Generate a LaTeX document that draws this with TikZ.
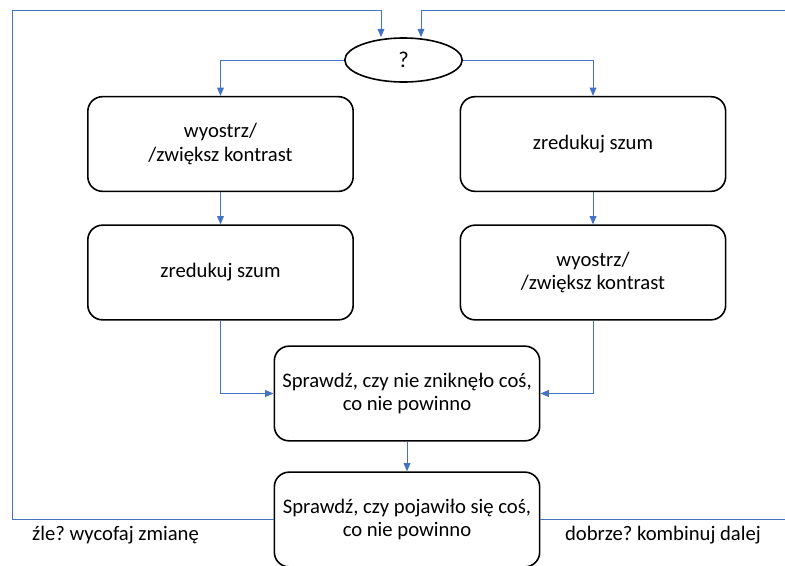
\documentclass[tikz,border=0pt]{standalone}
\usepackage{fontspec}
\setmainfont{Carlito}
\usepackage{tikz}
\usetikzlibrary{arrows.meta,calc,positioning,shapes.geometric}
\frenchspacing
\definecolor{officeblue}{RGB}{68,114,196}
\tikzset{
  blok/.style={
    rounded corners=11pt,
    draw=black,
    line width=1.2pt,
    fill=white,
    align=center,
    minimum width=199pt,
    minimum height=71pt,
    inner sep=4pt,
    font=\fontsize{15.5}{17.5}\selectfont
  },
  pytanie/.style={
    ellipse,
    draw=black,
    line width=1.2pt,
    fill=white,
    minimum width=88pt,
    minimum height=33pt,
    inner sep=0pt,
    font=\fontsize{17}{20}\selectfont
  },
  opis/.style={
    align=center,
    font=\fontsize{15.5}{19}\selectfont
  },
  strzalka/.style={
    -{Triangle[length=2.2mm,width=1.8mm]},
    line width=0.75pt,
    officeblue
  }
}

\begin{document}
\begin{tikzpicture}[x=0.75pt,y=-0.75pt]
\useasboundingbox (0,0) rectangle (785,565);
\clip (0,0) rectangle (785,565);
\node[pytanie] (q) at (403.5,60) {?};
\node[blok] (l1) at (220.5,144) {wyostrz/\\/zwiększ kontrast};
\node[blok] (r1) at (593,144) {zredukuj szum};
\node[blok] (l2) at (220.5,272.5) {zredukuj szum};
\node[blok] (r2) at (593,272.5) {wyostrz/\\/zwiększ kontrast};
\node[blok] (c1) at (407,393.5) {Sprawdź, czy nie zniknęło coś,\\co nie powinno};
\node[blok] (c2) at (407,519.5) {Sprawdź, czy pojawiło się coś,\\co nie powinno};
\node[opis] (zle) at (115.5,535) {źle? wycofaj zmianę};
\node[opis] (dobrze) at (663,535) {dobrze? kombinuj dalej};
% punkty petli powrotnych
\coordinate (lt) at (12,10);
\coordinate (lin) at (381,10);
\coordinate (rt) at (792,10);
\coordinate (rin) at (421,10);

\draw[strzalka] (q.west) -| (l1.north);
\draw[strzalka] (q.east) -| (r1.north);
\draw[strzalka] (l1) -- (l2);
\draw[strzalka] (r1) -- (r2);
\draw[strzalka] (l2.south) |- (c1.west);
\draw[strzalka] (r2.south) |- (c1.east);
\draw[strzalka] (c1) -- (c2);
\draw[strzalka] (c2.west) -| (lt) -- (lin) -- (lin |- q.north);
\draw[strzalka] (c2.east) -| (rt) -- (rin) -- (rin |- q.north);
\end{tikzpicture}
\end{document}
